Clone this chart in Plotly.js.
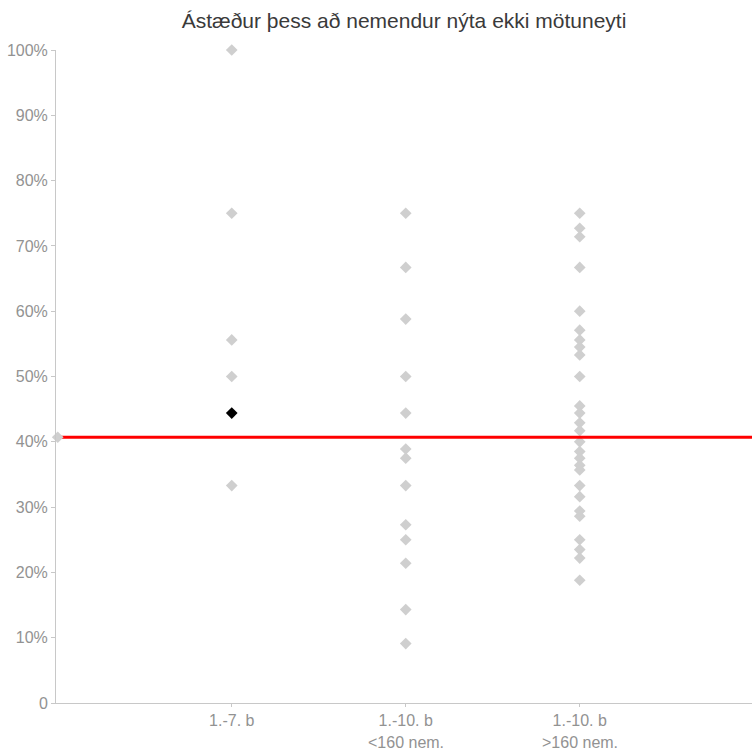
<!DOCTYPE html>
<html>
<head>
<meta charset="utf-8">
<script src="https://cdn.plot.ly/plotly-3.0.1.min.js"></script>
<style>html,body{margin:0;padding:0;background:#fff;}#chart{width:752px;height:752px;}</style>
</head>
<body>
<div id="chart"></div>
<script>
// Category labels
const categoryLines1 = ["1.-7. b", "1.-10. b", "1.-10. b"];
const categoryLines2 = ["", "<160 nem.", ">160 nem."];
const categoryPos = [1, 2, 3];

// Values (%) per category
const group1 = [100, 75, 55.6, 50, 33.3];
const group2 = [75, 66.7, 58.8, 50, 44.4, 38.9, 37.5, 33.3, 27.3, 25, 21.4, 14.3, 9.1];
const group3 = [75, 72.7, 71.4, 66.7, 60, 57.1, 55.6, 54.5, 53.3, 50, 45.5, 44.4, 42.9, 41.7, 40, 38.5, 37.5, 36.4, 35.7, 33.3, 31.6, 29.4, 28.6, 25, 23.5, 22.2, 18.8];

// Highlighted school
const highlightCategory = 1;
const highlightValue = 44.4;

// Overall average
const averageValue = 40.7;
const averageSpan = [0, 4];

const yTickVals = [0, 10, 20, 30, 40, 50, 60, 70, 80, 90, 100];
const yTickText = ["0", "10%", "20%", "30%", "40%", "50%", "60%", "70%", "80%", "90%", "100%"];

const grey = "#cfcfcf";
const FONT = "Arial, 'Liberation Sans', sans-serif";
const TICKCOL = "#929292";
function col(vals, pos) { return { x: vals.map(() => pos), y: vals }; }

const traces = [];
[group1, group2, group3].forEach((g, i) => {
  const c = col(g, categoryPos[i]);
  traces.push({
    type: "scatter", mode: "markers", x: c.x, y: c.y, cliponaxis: false,
    marker: { symbol: "diamond", size: 9, color: grey }, hoverinfo: "y", showlegend: false
  });
});
traces.push({
  type: "scatter", mode: "lines", x: averageSpan, y: averageSpan.map(() => averageValue),
  line: { color: "#ff0000", width: 3 }, cliponaxis: false, showlegend: false, hoverinfo: "y"
});
traces.push({
  type: "scatter", mode: "markers", x: [averageSpan[0]], y: [averageValue], cliponaxis: false,
  marker: { symbol: "diamond", size: 9, color: grey }, showlegend: false, hoverinfo: "y"
});
traces.push({
  type: "scatter", mode: "markers", x: [highlightCategory], y: [highlightValue], cliponaxis: false,
  marker: { symbol: "diamond", size: 9, color: "#000000" }, showlegend: false, hoverinfo: "y"
});

const annotations = categoryPos.map((p, i) => ({
  x: p, y: 0, xref: "x", yref: "paper", yanchor: "top", yshift: -29,
  text: categoryLines2[i], showarrow: false,
  font: { family: FONT, size: 16, color: TICKCOL }
})).filter(a => a.text);

const layout = {
  width: 752, height: 752,
  margin: { l: 56, r: 0, t: 50, b: 49 },
  paper_bgcolor: "#fff", plot_bgcolor: "#fff",
  font: { family: FONT, size: 16, color: TICKCOL },
  title: {
    text: "Ástæður þess að nemendur nýta ekki mötuneyti",
    font: { family: FONT, size: 21, color: "#3a3a3a" },
    x: 0.5, xref: "paper", y: 0.973, yanchor: "middle"
  },
  xaxis: {
    range: [-0.01, 3.99], tickvals: categoryPos, ticktext: categoryLines1,
    showgrid: false, zeroline: false, showline: true, linecolor: "#c8c8c8", linewidth: 1,
    ticks: "outside", ticklen: 3, tickcolor: "#c8c8c8", fixedrange: true,
    tickfont: { family: FONT, size: 16, color: TICKCOL }
  },
  yaxis: {
    range: [0, 100], tickvals: yTickVals, ticktext: yTickText,
    showgrid: false, zeroline: false, showline: true, linecolor: "#c8c8c8", linewidth: 1,
    ticks: "outside", ticklen: 4, tickcolor: "#c8c8c8", fixedrange: true,
    tickfont: { family: FONT, size: 16, color: TICKCOL }
  },
  annotations: annotations,
  hovermode: "closest"
};

Plotly.newPlot("chart", traces, layout, { displayModeBar: false, staticPlot: true });
</script>
</body>
</html>
